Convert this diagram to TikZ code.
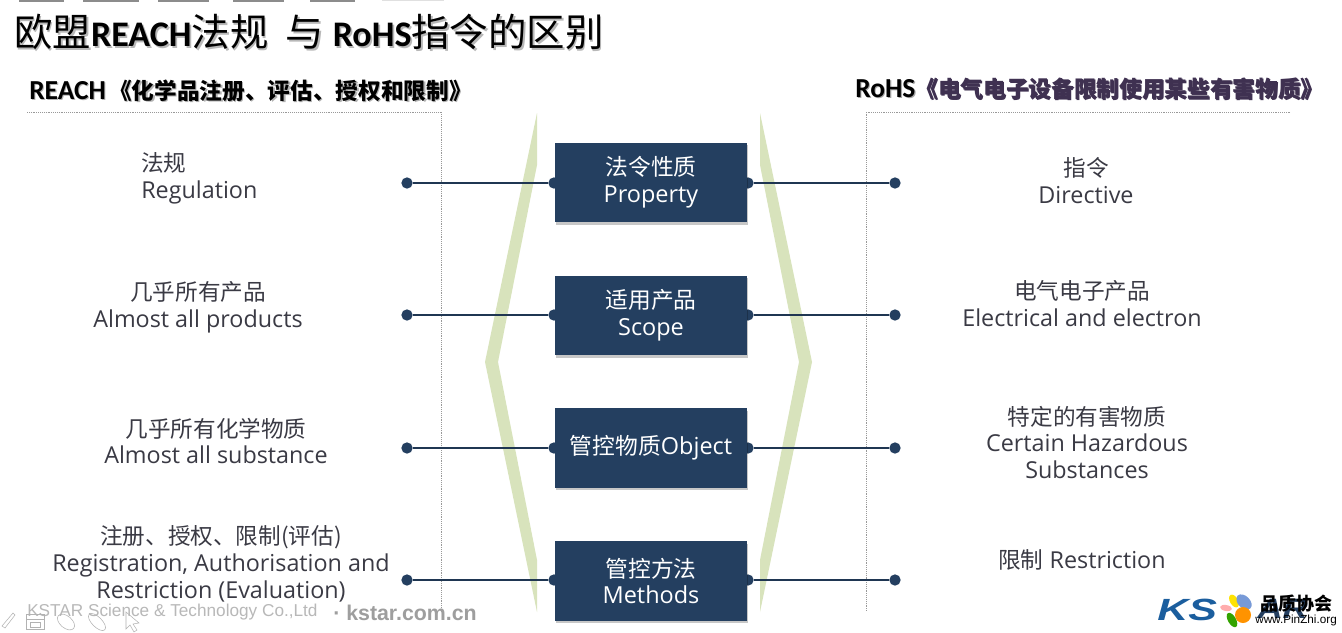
\documentclass[tikz,border=0pt]{standalone}
\usepackage{fontspec}
\setmainfont{Open Sans}
\newfontfamily\cn[Scale=0.97]{Noto Sans CJK SC}
\newfontfamily\cnplain{Noto Sans CJK SC}
\newfontfamily\lat{Liberation Sans}
\newfontfamily\carl{Carlito}
\usetikzlibrary{shadows}
\definecolor{navy}{HTML}{243F60}
\definecolor{band}{HTML}{D8E3BC}
\definecolor{ink}{HTML}{3A3A44}
\definecolor{plum}{HTML}{3F3151}
\definecolor{logoblue}{HTML}{1B5E9E}
\newcommand{\shd}[4]{\leavevmode\rlap{\kern#1\raisebox{-#1}{\textcolor{#2}{#4}}}\textcolor{#3}{#4}}
\tikzset{
  x=0.75pt,y=-0.75pt,
  bluebox/.style={fill=navy,text=white,minimum width=144pt,minimum height=59.5pt,inner sep=0pt,align=center,
     font=\fontsize{17.6}{20.2}\selectfont,drop shadow={shadow xshift=.6pt,shadow yshift=-1.8pt,opacity=.22,fill=black}},
  pin/.style={circle,fill=navy,inner sep=0pt,minimum size=8.5pt},
  link/.style={draw=navy!85!black,line width=1.1pt},
  side/.style={text=ink,align=center,inner sep=0pt,font=\fontsize{17.5}{20.2}\selectfont},
  frameline/.style={draw=black!40,line width=.4pt,densely dotted},
  brace/.style={fill=band,draw=none},
  footer/.style={text=black!28,inner sep=0pt,anchor=west}
}
\begin{document}
\begin{tikzpicture}
\useasboundingbox (0,0) rectangle (1342,632);
\fill[white] (0,0) rectangle (1342,632);
% cropped fragments along the top edge
\foreach \a/\b in {19/64,83/139,158/209,233/284,310/355}{\fill[black!45] (\a,0) rectangle (\b,1.5);}
\fill[black!12] (382,0) rectangle (444,1.2);
% title and headers
\node[anchor=west,inner sep=0pt] (title) at (14,33) {\fontsize{28.8}{30}\selectfont\shd{1.3pt}{black!28}{black}{\cnplain 欧盟{\carl\bfseries\fontsize{27}{30}\selectfont REACH}法规\hspace{13pt}与\hspace{6.5pt}{\carl\bfseries\fontsize{27}{30}\selectfont RoHS}指令的区别}};
\node[anchor=west,inner sep=0pt] (hl) at (29,91) {\fontsize{17}{20}\selectfont\shd{.8pt}{black!30}{black}{\bfseries{\carl\fontsize{20.6}{20}\selectfont REACH}\hspace{2.5pt}{\cnplain 《化学品注册、评估、授权和限制》}}};
\node[anchor=west,inner sep=0pt] (hr) at (855,89) {\fontsize{17}{20}\selectfont\shd{.9pt}{black!35}{black}{\bfseries{\carl\fontsize{20.6}{20}\selectfont RoHS}{\cnplain\textcolor{plum}{《电气电子设备限制使用某些有害物质》}}}};
% dotted frames
\coordinate (la) at (27,112); \coordinate (lb) at (441,112); \coordinate (lc) at (441,611);
\coordinate (ra) at (1290,112); \coordinate (rb) at (866,112); \coordinate (rc) at (866,611);
\draw[frameline] (la) -- (lb) -- (lc);
\draw[frameline] (ra) -- (rb) -- (rc);
% chevrons
\fill[brace] (537,113) -- (537,165) -- (498,362) -- (537,560) -- (537,612) -- (485,362) -- cycle;
\fill[brace] (760,113) -- (760,165) -- (799,362) -- (760,560) -- (760,612) -- (812,362) -- cycle;
% pins
\foreach \n/\y in {a/183,b/315,c/448,d/580}{
  \node[pin] (l\n) at (407,\y) {};
  \node[pin] (r\n) at (895,\y) {};
  \node[pin] (il\n) at (554,\y) {};
  \node[pin] (ir\n) at (748,\y) {};
  \draw[link] (l\n) -- (il\n);
  \draw[link] (ir\n) -- (r\n);
}
% centre boxes
\node[bluebox] (ba) at (651,182.5) {{\cn 法令性质}\\Property};
\node[bluebox] (bb) at (651,315.5) {{\cn 适用产品}\\Scope};
\node[bluebox] (bc) at (651,448) {\raisebox{-1.5pt}{{\cn 管控物质}Object}};
\node[bluebox] (bd) at (651,581) {{\cn 管控方法}\\Methods};
% left texts
\node[side,anchor=north west,align=left] (t1) at (141,152.5) {{\cn 法规}\\Regulation};
\node[side] (t2) at (198,307) {{\cn 几乎所有产品}\\Almost all products};
\node[side] (t3) at (216,441) {{\cn 几乎所有化学物质}\\Almost all substance};
\node[side] (t4) at (221,564) {{\cn 注册、授权、限制(评估)}\\Registration, Authorisation and\\Restriction (Evaluation)};
% right texts
\node[side] (t5) at (1086,180.5) {{\cn 指令}\\Directive};
\node[side] (t6) at (1082,303.5) {{\cn 电气电子产品}\\Electrical and electron};
\node[side] (t7) at (1087,442.5) {{\cn 特定的有害物质}\\Certain Hazardous\\Substances};
\node[side] (t8) at (1082,560) {{\cn 限制} Restriction};
% footer
\node[footer,font=\lat\fontsize{12.9}{14}\selectfont] (f1) at (27,612.5) {KSTAR Science \& Technology Co.,Ltd};
\node[footer,font=\lat\bfseries\fontsize{16}{18}\selectfont,text=black!38] (f2) at (333,612.5) {· kstar.com.cn};
% faint toolbar icons
\begin{scope}[draw=black!30,line width=.4pt]
\draw (2,626) -- (13,613) -- (15,615) -- (5,628) -- cycle;
\draw (26,614) rectangle (44,629); \draw (26,619) -- (44,619); \draw (30,622) rectangle (40,627);
\draw[rotate around={-40:(66,622)}] (66,622) ellipse (10 and 6);
\draw[rotate around={-45:(97,622)}] (97,622) ellipse (11 and 5);
\draw (126,612) -- (126,629) -- (130,625) -- (134,632) -- (137,630) -- (133,624) -- (139,623) -- cycle;
\end{scope}
% logo
\node[anchor=west,inner sep=0pt,text=navy,font=\lat\bfseries\itshape\fontsize{21}{22}\selectfont] (kar) at (1257,609) {\scalebox{1.25}[1]{AR}};
\node[anchor=west,inner sep=0pt,text=logoblue,font=\lat\bfseries\itshape\fontsize{23}{24}\selectfont] (ks) at (1157,610) {\scalebox{1.4}[1]{KS}};
\fill[yellow!85!orange,rotate around={30:(1234,601)}] (1234,601) ellipse (4 and 7);
\fill[pink!90!red,rotate around={80:(1226,608)}] (1226,608) ellipse (3 and 6);
\fill[green!55!black!80!yellow,rotate around={30:(1232,620)}] (1232,620) ellipse (4 and 8);
\fill[cyan!45!blue!55!white,rotate around={45:(1244,602)}] (1244,602) ellipse (6 and 9);
\fill[orange!85!yellow] (1243,615) circle (8);
\node[anchor=west,inner sep=0pt,font=\cnplain\bfseries\fontsize{13.5}{14}\selectfont] (pz) at (1260,604) {品质协会};
\node[anchor=west,inner sep=0pt,font=\lat\fontsize{8.8}{10}\selectfont] (pzw) at (1255,620) {www.PinZhi.org};
\end{tikzpicture}
\end{document}
